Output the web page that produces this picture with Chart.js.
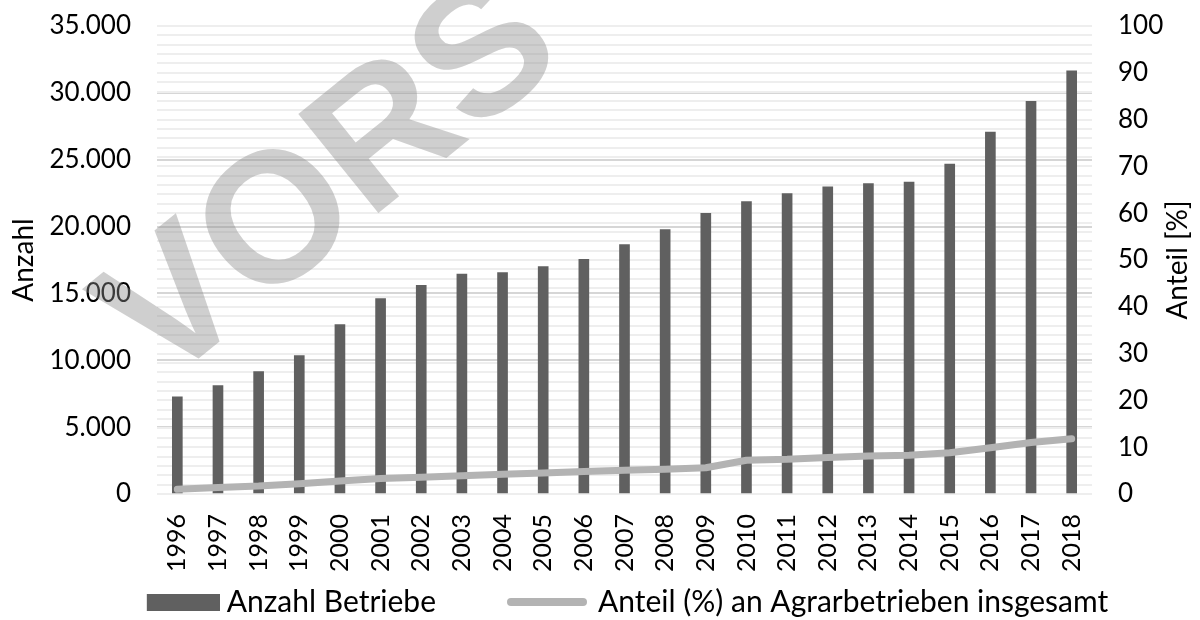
<!DOCTYPE html>
<html>
<head>
<meta charset="utf-8">
<script src="https://cdn.jsdelivr.net/npm/chart.js@4/dist/chart.umd.min.js"></script>
<style>
  html, body { margin: 0; padding: 0; background: #fff; }
  #wrap { width: 1200px; height: 620px; }
</style>
</head>
<body>
<div id="wrap"><canvas id="chart" width="1200" height="620"></canvas></div>
<script>
const years = ['1996', '1997', '1998', '1999', '2000', '2001', '2002', '2003', '2004', '2005', '2006', '2007',
  '2008', '2009', '2010', '2011', '2012', '2013', '2014', '2015', '2016', '2017', '2018'];
const betriebe = [7270, 8100, 9150, 10350, 12670, 14620, 15600, 16450, 16550, 17000, 17550, 18650,
  19780, 20990, 21870, 22470, 22970, 23220, 23330, 24680, 27060, 29360, 31650];
const anteil = [1.0, 1.4, 1.7, 2.2, 2.8, 3.3, 3.6, 3.9, 4.2, 4.5, 4.8, 5.1,
  5.3, 5.6, 7.2, 7.4, 7.8, 8.1, 8.3, 8.8, 9.9, 11.0, 11.8];
const seriesNames = ['Anzahl Betriebe', 'Anteil (%) an Agrarbetrieben insgesamt'];
const axisTitles = ['Anzahl', 'Anteil [%]'];
const leftMax = 35000;
const leftStep = 5000;
const rightMax = 100;
const rightStep = 10;
const watermark = 'VORS';

const FONT = 'Lato';
const BAR = '#606060';
const LINE = '#b3b3b3';
const BOX_W = 144;          // legend box width
const IMG_W = BOX_W + 16;   // swatch image overhangs the box by 8px each side

const fmtDe = (v) => String(v).replace(/\B(?=(\d{3})+(?!\d))/g, '.');

// legend swatches as small canvases
function swatch(h, draw) {
  const c = document.createElement('canvas');
  c.width = IMG_W;
  c.height = h;
  draw(c.getContext('2d'));
  return c;
}
const barSwatch = swatch(17, (ctx) => {
  ctx.fillStyle = BAR;
  ctx.fillRect(IMG_W - 73, 0, 73, 17);
});
const lineSwatch = swatch(10, (ctx) => {
  ctx.strokeStyle = LINE;
  ctx.lineWidth = 8;
  ctx.lineCap = 'round';
  ctx.beginPath();
  ctx.moveTo(IMG_W - 4 - 76, 5);
  ctx.lineTo(IMG_W - 4 - 4, 5);
  ctx.stroke();
});

// vertical axes: no extra room for half labels, layout padding sets the top
const noPad = (scale) => {
  scale.paddingTop = 0;
  scale.paddingBottom = 0;
};

const extras = {
  id: 'extras',
  afterDraw(chart) {
    const { ctx, chartArea } = chart;
    const midY = (chartArea.top + chartArea.bottom) / 2;

    // right axis title reads bottom to top
    ctx.save();
    ctx.fillStyle = '#000';
    ctx.font = `28px ${FONT}`;
    ctx.textAlign = 'center';
    ctx.textBaseline = 'middle';
    ctx.translate(1178, midY);
    ctx.rotate(-Math.PI / 2);
    ctx.fillText(axisTitles[1], 0, 0);
    ctx.restore();

    // preview watermark
    ctx.save();
    ctx.fillStyle = 'rgba(140,140,140,0.42)';
    ctx.font = 'bold 185px "Liberation Sans"';
    ctx.textAlign = 'left';
    ctx.textBaseline = 'alphabetic';
    ctx.translate(161, 389);
    ctx.rotate(-39 * Math.PI / 180);
    ctx.fillText(watermark, 0, 0);
    ctx.restore();
  }
};

new Chart(document.getElementById('chart'), {
  data: {
    labels: years,
    datasets: [
      {
        type: 'bar',
        label: seriesNames[0],
        data: betriebe,
        backgroundColor: BAR,
        barThickness: 10,
        yAxisID: 'y',
        order: 1,
      },
      {
        type: 'line',
        label: seriesNames[1],
        data: anteil,
        borderColor: LINE,
        borderWidth: 7,
        borderCapStyle: 'round',
        borderJoinStyle: 'round',
        pointRadius: 0,
        tension: 0,
        yAxisID: 'y1',
        order: 0,
      },
    ],
  },
  options: {
    responsive: false,
    animation: false,
    layout: { padding: { left: 0, right: 24, top: 26, bottom: -7 } },
    plugins: {
      tooltip: { enabled: false },
      legend: {
        position: 'bottom',
        labels: {
          color: '#000',
          font: { family: FONT, size: 30 },
          usePointStyle: true,
          pointStyleWidth: BOX_W,
          padding: 3,
          generateLabels: () => [
            { text: seriesNames[0], pointStyle: barSwatch, fillStyle: BAR, strokeStyle: BAR, lineWidth: 0, datasetIndex: 0, hidden: false },
            { text: seriesNames[1], pointStyle: lineSwatch, fillStyle: LINE, strokeStyle: LINE, lineWidth: 0, datasetIndex: 1, hidden: false },
          ],
        },
      },
    },
    scales: {
      x: {
        grid: { display: false, drawTicks: false },
        border: { display: false },
        ticks: {
          color: '#000',
          font: { family: FONT, size: 25 },
          minRotation: 90,
          maxRotation: 90,
          autoSkip: false,
          padding: 20,
        },
        afterFit: (scale) => { scale.height = 90; },
      },
      y: {
        position: 'left',
        min: 0,
        max: leftMax,
        z: 0,
        border: { display: false },
        grid: { color: '#d6d6d6', lineWidth: 2, drawTicks: false },
        title: {
          display: true,
          text: axisTitles[0],
          color: '#000',
          font: { family: FONT, size: 28 },
          padding: { top: 7, bottom: 0 },
        },
        ticks: {
          stepSize: leftStep,
          color: '#000',
          font: { family: FONT, size: 26 },
          padding: 26,
          callback: (v) => fmtDe(v),
        },
        afterFit: (scale) => { scale.width = 157; noPad(scale); },
      },
      y1: {
        position: 'right',
        min: 0,
        max: rightMax,
        z: -1,
        border: { display: false },
        grid: { color: '#eeeeee', lineWidth: 2, drawTicks: false },
        ticks: {
          stepSize: rightStep / 5,
          autoSkip: false,
          color: '#000',
          font: { family: FONT, size: 26 },
          padding: 26,
          callback: (v) => (v % rightStep === 0 ? String(v) : ''),
        },
        afterFit: (scale) => { scale.width = 84; noPad(scale); },
      },
    },
  },
  plugins: [extras],
});
</script>
</body>
</html>
